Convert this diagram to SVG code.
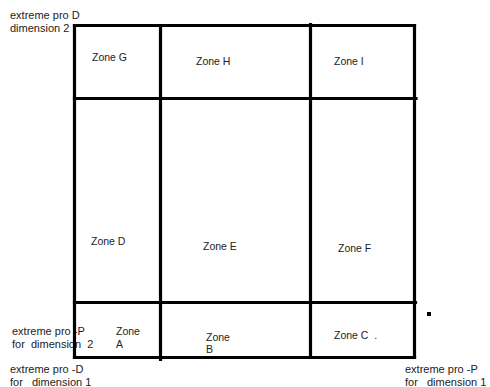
<svg xmlns="http://www.w3.org/2000/svg" width="490" height="387" viewBox="0 0 490 387">
<style>
text{font-family:"Liberation Sans",Arial,sans-serif;font-size:11px;fill:#222;white-space:pre}
.z{font-size:10.5px}
.ln{stroke:#000;stroke-width:3.2;fill:none;stroke-linecap:square}
</style>
<rect width="490" height="387" fill="#fff"/>
<g id="labels">
<text x="10" y="19">extreme pro D</text>
<text x="10" y="32">dimension 2</text>
<text x="12" y="335">extreme pro -P</text>
<text x="12" y="348">for  dimension  2</text>
<text x="10" y="373">extreme pro -D</text>
<text x="10" y="386">for   dimension 1</text>
<text x="405" y="373">extreme pro -P</text>
<text x="405" y="386">for   dimension 1</text>
</g>
<g id="grid">
<line class="ln" x1="74.5" y1="25.5" x2="414.5" y2="25.5"/>
<line class="ln" x1="74.5" y1="25.5" x2="74.5" y2="357.5"/>
<line class="ln" x1="414.5" y1="25.5" x2="414.5" y2="357.5"/>
<line class="ln" x1="74.5" y1="357.5" x2="414.5" y2="357.5"/>
<line class="ln" x1="160.5" y1="25.5" x2="160.5" y2="359.5"/>
<line class="ln" x1="310.5" y1="24.5" x2="310.5" y2="357.5"/>
<line class="ln" x1="74.5" y1="98.5" x2="416" y2="98.5"/>
<line class="ln" x1="74.5" y1="302.5" x2="415.5" y2="302.5"/>
<rect x="427" y="312" width="4" height="4" fill="#000"/>
</g>
<g id="zoneG"><text class="z" x="92" y="61">Zone G</text></g>
<g id="zoneH"><text class="z" x="196" y="65">Zone H</text></g>
<g id="zoneI"><text class="z" x="334" y="65">Zone I</text></g>
<g id="zoneD"><text class="z" x="91" y="245">Zone D</text></g>
<g id="zoneE"><text class="z" x="203" y="250">Zone E</text></g>
<g id="zoneF"><text class="z" x="338" y="252">Zone F</text></g>
<g id="zoneA"><text class="z" x="116" y="335">Zone</text><text class="z" x="116" y="348">A</text></g>
<g id="zoneB"><text class="z" x="206" y="341">Zone</text><text class="z" x="206" y="353">B</text></g>
<g id="zoneC"><text class="z" x="334" y="339">Zone C  .</text></g>
</svg>
